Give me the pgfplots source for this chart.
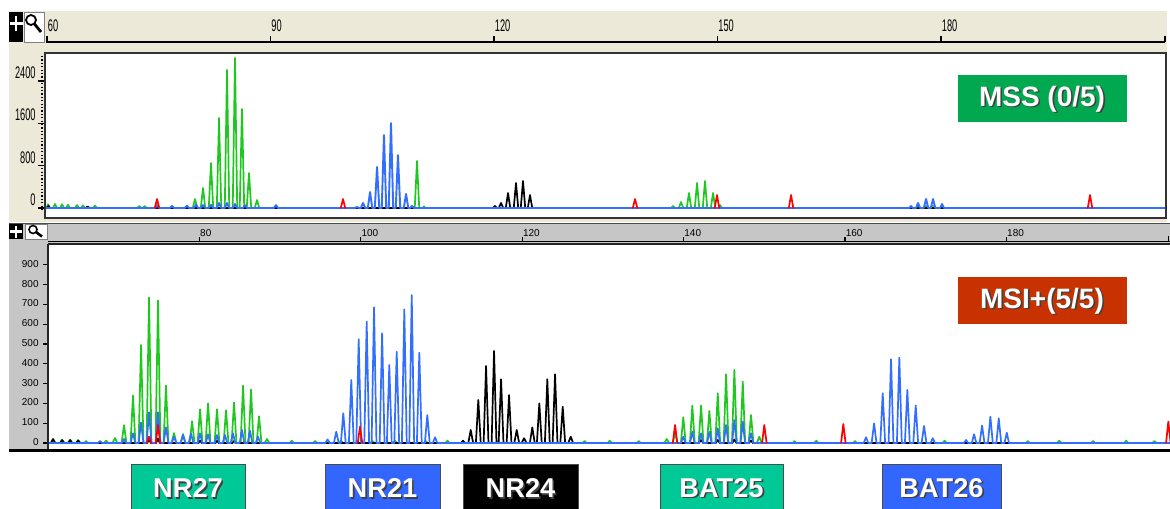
\documentclass[border=0pt]{standalone}
\usepackage{pgfplots}
\pgfplotsset{compat=1.18}
\usepackage{graphicx}
\usepackage{fontspec}
\setmainfont{Liberation Sans}
\definecolor{beige}{RGB}{236,233,216}
\definecolor{pgray}{RGB}{198,198,198}
\definecolor{tgreen}{RGB}{30,200,30}
\definecolor{tblue}{RGB}{50,110,255}
\definecolor{tred}{RGB}{255,0,0}
\definecolor{mssgreen}{RGB}{0,168,80}
\definecolor{msired}{RGB}{200,50,0}
\definecolor{boxteal}{RGB}{0,200,150}
\definecolor{boxblue}{RGB}{51,102,255}
\newcommand{\shtext}[4]{%
  \node[text=black!75,font=#4,inner sep=0] at ({#1+1.6},{-#2-1.6}) {#3};
  \node[text=white,font=#4,inner sep=0] at (#1,-#2) {#3};}
\newcommand{\tfont}{\fontsize{8.4}{9}\selectfont}
\newcommand{\bfnt}{\fontsize{5}{6}\selectfont}
\newcommand{\tl}[1]{\scalebox{0.55}[1]{\tfont #1}}
\pgfplotsset{trace/.style={line width=0.85pt, line join=round, line cap=round, mark=none}}
\begin{document}
\begin{tikzpicture}
\path[use as bounding box] (0,0) rectangle (585pt,-254pt);
\clip (0,0) rectangle (585pt,-254pt);
\begin{scope}[x=0.5pt,y=0.5pt]
% ---------- top panel background ----------
\fill[beige] (9,-11) rectangle (1167,-222);
\fill[white] (45,-53) rectangle (1166,-218);
% icons top
\fill[black] (9,-12) rectangle (23,-42);
\draw[white,line width=1.2pt] (16,-16) -- (16,-31) (9.5,-23.5) -- (22.5,-23.5);
\fill[white] (24,-12) rectangle (44,-42);
\draw[gray] (24,-12) rectangle (44,-42);
\draw[black,line width=0.9pt] (31,-20) circle (5);
\draw[black,line width=1.4pt] (34.5,-24) -- (41,-32);
% top ruler
\draw[black,line width=0.7pt] (46,-42) -- (1165,-42);
\foreach \xx/\lab in {47/60,270.5/90,494/120,717.5/150,941/180}{
  \draw[black,line width=0.7pt] (\xx,-42) -- (\xx,-36);
  \node[anchor=base west,inner sep=0] at ({\xx+0.5},-32) {\tl{\lab}};}
\draw[black,line width=0.7pt] (1165,-42) -- (1165,-36);
% top y ruler
\draw[black,line width=0.9pt,dash pattern=on 0.6pt off 1.1pt] (42,-56) -- (42,-212);
\foreach \yy/\yl/\yt in {81/73/2400,123.3/115/1600,165.7/158/800,208/200/0}{
  \draw[black,line width=0.7pt] (38,-\yy) -- (44,-\yy);
  \node[anchor=east,inner sep=0] at (36,-\yl) {\tl{\yt}};}
% ---------- bottom panel background ----------
\fill[pgray] (9,-223) rectangle (1170,-451);
\draw[black!70,line width=0.6pt] (9,-223.5) -- (1170,-223.5);
\fill[white] (48,-244) rectangle (1170,-450);
% icons bottom
\fill[black] (9,-224) rectangle (23,-239);
\draw[white,line width=1.1pt] (16,-225.5) -- (16,-237.5) (10,-231.5) -- (22,-231.5);
\fill[white] (25,-224) rectangle (47,-239);
\draw[gray] (25,-224) rectangle (47,-239);
\draw[black,line width=0.8pt] (33,-229.5) circle (4);
\draw[black,line width=1.3pt] (36,-232) -- (42,-236.5);
% bottom ruler
\draw[black,line width=0.7pt] (48,-241.5) -- (1170,-241.5);
\foreach \xx/\lab in {199.3/80,360.7/100,522.1/120,683.5/140,844.9/160,1006.3/180}{
  \draw[black,line width=0.6pt] (\xx,-241.5) -- (\xx,-237);
  \node[anchor=base west,inner sep=0] at ({\xx+0.5},-236) {\bfnt \lab};}
\draw[black,line width=0.6pt] (1168.5,-241.5) -- (1168.5,-236);
% bottom y ticks
\foreach \yy/\yt in {264.8/900,284.6/800,304.4/700,324.2/600,344/500,363.8/400,383.6/300,403.4/200,423.2/100,443/0}{
  \draw[black,line width=0.6pt] (43,-\yy) -- (47.5,-\yy);
  \node[anchor=east,inner sep=0] at (39,{-\yy+1}) {\bfnt \yt};}
\end{scope}
% ---------- top axis ----------
\begin{axis}[at={(22.5pt,-109pt)},anchor=south west,scale only axis,
  width=560.5pt,height=82.5pt,xmin=59.73,xmax=210.2,ymin=-189,ymax=2930,
  hide axis,unbounded coords=jump]
\addplot[trace,tgreen] coordinates {
(59.73,0)(59.9,0)(60.13,70)(60.4,0)(60.8,0)(61.07,75)(61.35,0)(61.75,0)(62.01,70)(62.3,0)
(62.55,0)(62.82,60)(63.1,0)(63.75,0)(64.03,55)(64.3,0)(64.55,0)(64.83,50)(65.1,0)
(66.15,0)(66.44,45)(66.7,0)(72.1,0)(72.4,35)(72.7,0)(72.8,0)(73.1,35)(73.4,0)
(79.57,0)(79.87,170)(80.17,0)(80.64,0)(80.94,378)(81.24,0)(81.71,0)(82.01,850)(82.31,0)
(82.79,0)(83.09,1700)(83.39,0)(83.86,0)(84.16,2608)(84.46,0)(84.93,0)(85.23,2835)(85.53,0)
(85.87,0)(86.17,1871)(86.47,0)(86.81,0)(87.11,662)(87.41,0)(87.89,0)(88.19,151)(88.49,0)
(109.36,0)(109.66,888)(109.96,0)(110.4,0)(110.6,30)(110.8,0)
(143.78,0)(144.03,38)(144.28,0)(144.8,0)(145.10,113)(145.4,0)(145.87,0)(146.17,284)(146.47,0)
(146.95,0)(147.25,473)(147.55,0)(148.02,0)(148.32,510)(148.62,0)(149.1,0)(149.4,284)(149.7,0)
(150.1,0)(150.34,57)(150.6,0)
(176.7,0)(176.91,38)(177.15,0)(177.75,0)(177.99,38)(178.2,0)(178.7,0)(178.93,38)(179.15,0)
(210.2,0)};
\addplot[trace,black] coordinates {
(59.73,0)(60.0,0)(60.2,40)(60.4,0)(65.2,0)(65.45,30)(65.7,0)
(119.9,0)(120.13,38)(120.4,0)(120.64,0)(120.94,95)(121.24,0)(121.58,0)(121.88,284)(122.18,0)
(122.65,0)(122.95,473)(123.25,0)(123.59,0)(123.89,510)(124.19,0)(124.53,0)(124.83,246)(125.13,0)
(210.2,0)};
\addplot[trace,tblue,line width=0.95pt] coordinates {
(59.73,0)(74.5,0)(74.77,55)(75.05,0)(76.5,0)(76.78,40)(77.05,0)(78.5,0)(78.79,45)(79.05,0)
(79.7,0)(80.0,60)(80.3,0)(80.64,0)(80.94,55)(81.24,0)(81.71,0)(82.01,60)(82.31,0)
(82.79,0)(83.09,95)(83.39,0)(83.86,0)(84.16,95)(84.46,0)(84.93,0)(85.23,75)(85.53,0)
(86.3,0)(86.58,55)(86.85,0)(90.45,0)(90.74,55)(91.0,0)
(101.35,0)(101.61,20)(101.85,0)(102.12,0)(102.42,95)(102.72,0)(103.06,0)(103.36,302)(103.66,0)
(104.0,0)(104.30,775)(104.6,0)(104.93,0)(105.23,1380)(105.53,0)(105.87,0)(106.17,1607)(106.47,0)
(106.81,0)(107.11,1002)(107.41,0)(107.89,0)(108.19,265)(108.49,0)(108.75,0)(108.99,38)(109.25,0)
(175.75,0)(175.97,38)(176.2,0)(176.65,0)(176.91,95)(177.2,0)(177.69,0)(177.99,170)(178.29,0)
(178.63,0)(178.93,170)(179.23,0)(179.9,0)(180.13,76)(180.4,0)
(210.2,0)};
\addplot[trace,tred] coordinates {
(74.47,0)(74.77,170)(75.07,0)(75.07,nan)
(99.43,0)(99.73,170)(100.03,0)(100.03,nan)
(138.63,0)(138.93,170)(139.23,0)(139.23,nan)
(149.63,0)(149.93,246)(150.23,0)(150.23,nan)
(159.57,0)(159.87,246)(160.17,0)(160.17,nan)
(199.7,0)(200.0,246)(200.3,0)};
\end{axis}
% ---------- bottom axis ----------
\begin{axis}[at={(24pt,-225pt)},anchor=south west,scale only axis,
  width=561pt,height=102.5pt,xmin=61.25,xmax=200.28,ymin=-35.4,ymax=1000,
  hide axis,unbounded coords=jump]
\addplot[trace,tgreen] coordinates {
(61.25,0)(61.6,0)(61.88,18)(62.15,0)(62.7,0)(63.0,15)(63.3,0)(63.7,0)(63.98,15)(64.25,0)
(64.7,0)(64.97,15)(65.25,0)(65.7,0)(65.96,10)(66.2,0)(68.2,0)(68.45,12)(68.7,0)
(69.25,0)(69.55,25)(69.85,0)(70.37,0)(70.67,90)(70.97,0)(71.48,0)(71.78,240)(72.08,0)
(72.48,0)(72.78,495)(73.08,0)(73.47,0)(73.77,735)(74.07,0)(74.58,0)(74.88,720)(75.18,0)
(75.57,0)(75.87,290)(76.17,0)(76.56,0)(76.86,50)(77.16,0)(77.68,0)(77.98,45)(78.28,0)
(78.8,0)(79.10,110)(79.4,0)(79.79,0)(80.09,170)(80.39,0)(80.78,0)(81.08,200)(81.38,0)
(81.89,0)(82.19,170)(82.49,0)(83.01,0)(83.31,165)(83.61,0)(84.0,0)(84.30,205)(84.6,0)
(85.12,0)(85.42,290)(85.72,0)(86.11,0)(86.41,270)(86.71,0)(87.1,0)(87.40,135)(87.7,0)
(88.09,0)(88.39,20)(88.69,0)
(91.2,0)(91.45,12)(91.7,0)(94.1,0)(94.35,10)(94.6,0)(97.3,0)(97.55,12)(97.8,0)
(101.2,0)(101.45,10)(101.7,0)(104.0,0)(104.25,12)(104.5,0)(107.8,0)(108.05,10)(108.3,0)
(110.5,0)(110.75,12)(111.0,0)(127.5,0)(127.75,10)(128.0,0)(130.6,0)(130.85,12)(131.1,0)
(134.2,0)(134.45,10)(134.7,0)
(137.62,0)(137.92,20)(138.22,0)(138.65,0)(138.95,49)(139.25,0)(139.67,0)(139.97,130)(140.27,0)
(140.79,0)(141.09,189)(141.39,0)(141.87,0)(142.17,189)(142.47,0)(142.9,0)(143.20,162)(143.5,0)
(143.94,0)(144.24,251)(144.54,0)(144.97,0)(145.27,347)(145.57,0)(146.0,0)(146.30,369)(146.6,0)
(147.04,0)(147.34,310)(147.64,0)(148.06,0)(148.36,141)(148.66,0)(149.09,0)(149.39,32)(149.69,0)
(153.5,0)(153.75,10)(154.0,0)(156.2,0)(156.45,12)(156.7,0)(161.0,0)(161.25,10)(161.5,0)
(172.1,0)(172.35,12)(172.6,0)(182.4,0)(182.65,10)(182.9,0)(186.3,0)(186.55,12)(186.8,0)
(190.5,0)(190.75,10)(191.0,0)(194.6,0)(194.85,12)(195.1,0)(198.1,0)(198.35,10)(198.6,0)
(200.28,0)};
\addplot[trace,black] coordinates {
(61.25,0)(61.6,0)(61.88,20)(62.15,0)(62.75,0)(63.0,15)(63.25,0)(63.75,0)(64.0,15)(64.25,0)
(64.75,0)(65.0,12)(65.25,0)
(73.55,0)(73.77,18)(74.0,0)(74.65,0)(74.88,22)(75.1,0)(79.9,0)(80.1,12)(80.3,0)
(82.0,0)(82.2,12)(82.4,0)(84.1,0)(84.3,10)(84.5,0)
(112.42,0)(112.67,12)(112.92,0)(113.33,0)(113.63,66)(113.93,0)(114.27,0)(114.57,217)(114.87,0)
(115.23,0)(115.53,389)(115.83,0)(116.22,0)(116.52,465)(116.82,0)(117.09,0)(117.39,322)(117.69,0)
(118.08,0)(118.38,242)(118.68,0)(119.03,0)(119.33,66)(119.63,0)(119.94,0)(120.24,24)(120.54,0)
(120.96,0)(121.26,79)(121.56,0)(121.83,0)(122.13,200)(122.43,0)(122.82,0)(123.12,322)(123.42,0)
(123.78,0)(124.08,347)(124.38,0)(124.73,0)(125.03,183)(125.33,0)(125.72,0)(126.02,32)(126.32,0)
(141.9,0)(142.17,15)(142.45,0)(144.0,0)(144.24,15)(144.5,0)(146.05,0)(146.3,18)(146.55,0)
(148.1,0)(148.36,12)(148.6,0)
(200.28,0)};
\addplot[trace,tblue] coordinates {
(61.25,0)(67.45,0)(67.7,10)(67.95,0)(70.42,0)(70.67,20)(70.92,0)
(71.48,0)(71.78,49)(72.08,0)(72.48,0)(72.78,103)(73.08,0)(73.47,0)(73.77,155)(74.07,0)
(74.58,0)(74.88,155)(75.18,0)(75.57,0)(75.87,79)(76.17,0)(76.58,0)(76.86,32)(77.14,0)
(77.7,0)(77.98,40)(78.26,0)(78.69,0)(78.97,49)(79.25,0)(79.81,0)(80.09,49)(80.37,0)
(80.8,0)(81.08,44)(81.36,0)(81.91,0)(82.19,40)(82.47,0)(82.9,0)(83.18,40)(83.46,0)
(83.89,0)(84.17,49)(84.45,0)(85.01,0)(85.29,66)(85.57,0)(86.0,0)(86.28,62)(86.56,0)
(86.99,0)(87.27,32)(87.55,0)
(95.62,0)(95.89,18)(96.16,0)(96.67,0)(96.97,57)(97.27,0)(97.54,0)(97.84,150)(98.14,0)
(98.53,0)(98.83,318)(99.13,0)(99.45,0)(99.75,524)(100.05,0)(100.44,0)(100.74,613)(101.04,0)
(101.35,0)(101.65,685)(101.95,0)(102.35,0)(102.65,554)(102.95,0)(103.24,0)(103.54,394)(103.84,0)
(104.16,0)(104.46,461)(104.76,0)(105.1,0)(105.40,675)(105.7,0)(106.02,0)(106.32,747)(106.62,0)
(106.96,0)(107.26,456)(107.56,0)(107.95,0)(108.25,141)(108.55,0)(108.93,0)(109.21,29)(109.49,0)
(139.69,0)(139.97,32)(140.25,0)(140.81,0)(141.09,57)(141.37,0)(141.89,0)(142.17,49)(142.45,0)
(142.92,0)(143.20,57)(143.48,0)(143.96,0)(144.24,74)(144.52,0)(144.99,0)(145.27,91)(145.55,0)
(146.02,0)(146.30,116)(146.58,0)(147.06,0)(147.34,108)(147.62,0)(148.08,0)(148.36,49)(148.64,0)
(162.33,0)(162.61,29)(162.89,0)(163.31,0)(163.61,99)(163.91,0)(164.38,0)(164.68,251)(164.98,0)
(165.41,0)(165.71,423)(166.01,0)(166.44,0)(166.74,431)(167.04,0)(167.43,0)(167.73,268)(168.03,0)
(168.47,0)(168.77,189)(169.07,0)(169.5,0)(169.80,86)(170.1,0)(170.6,0)(170.88,24)(171.16,0)
(174.75,0)(175.01,15)(175.27,0)(175.72,0)(176.0,44)(176.28,0)(176.69,0)(176.99,88)(177.29,0)
(177.72,0)(178.02,133)(178.32,0)(178.76,0)(179.06,125)(179.36,0)(179.77,0)(180.05,52)(180.33,0)
(200.28,0)};
\addplot[trace,tred] coordinates {
(73.5,0)(73.77,32)(74.05,0)(74.05,nan)
(74.6,0)(74.88,91)(75.16,0)(75.16,nan)
(99.63,0)(99.91,82)(100.19,0)(100.19,nan)
(138.67,0)(138.95,91)(139.23,0)(139.23,nan)
(149.73,0)(150.01,91)(150.29,0)(150.29,nan)
(159.52,0)(159.80,96)(160.08,0)(160.08,nan)
(199.79,0)(200.07,108)(200.35,0)};
\end{axis}
\begin{scope}[x=0.5pt,y=0.5pt]
\draw[black!80,line width=1pt] (45,-53) rectangle (1166,-217.5);
\fill[mssgreen] (958,-75) rectangle (1127,-122);
\shtext{1042}{99}{MSS (0/5)}{\fontsize{14}{16}\selectfont\bfseries}
\draw[black!85,line width=0.8pt] (48,-244) -- (1170,-244);
\draw[black!85,line width=0.8pt] (48,-244) -- (48,-450);
\draw[black,line width=1.4pt] (9,-450.5) -- (1170,-450.5);
\fill[msired] (958,-277) rectangle (1127,-324);
\shtext{1042}{301}{MSI+(5/5)}{\fontsize{14}{16}\selectfont\bfseries}
\foreach \xa/\xb/\xc/\col/\txt in {131/245/188/boxteal/NR27,325/440/382.5/boxblue/NR21,463/578/520.5/black/NR24,660/783/721.5/boxteal/BAT25,882/1001/941.5/boxblue/BAT26}{
  \filldraw[fill=\col,draw=black!70,line width=0.5pt] (\xa,-464) rectangle (\xb,-520);
  \shtext{\xc}{488}{\txt}{\fontsize{13.6}{15}\selectfont\bfseries}}
\end{scope}
\end{tikzpicture}
\end{document}
